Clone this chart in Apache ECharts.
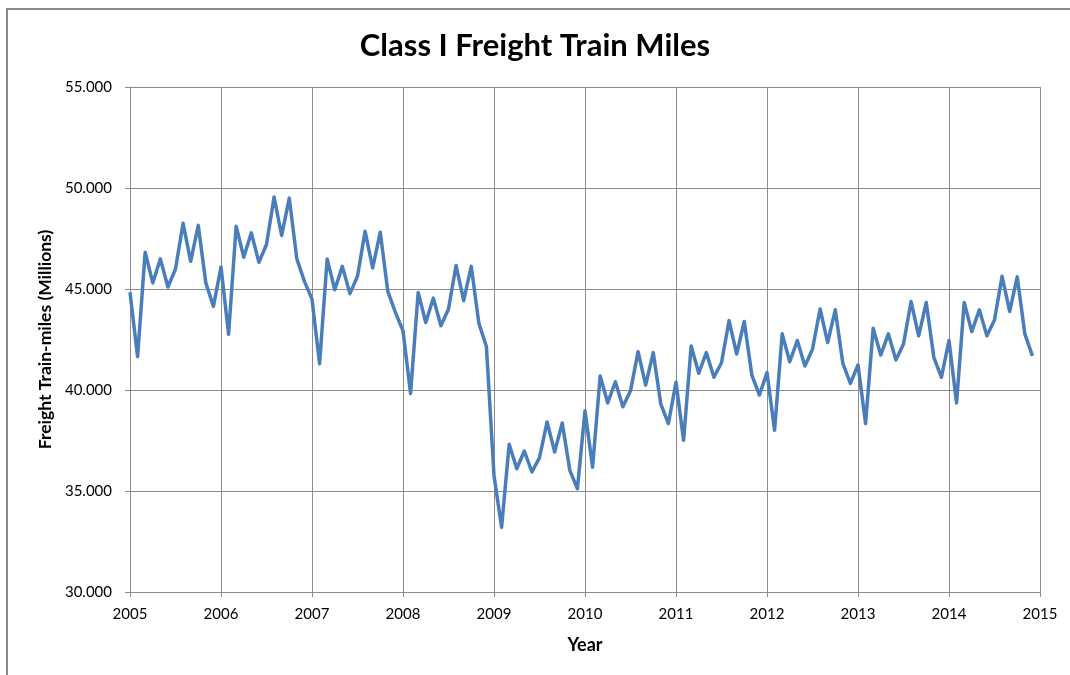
<!DOCTYPE html>
<html>
<head>
<meta charset="utf-8">
<script src="https://cdn.jsdelivr.net/npm/echarts@6/dist/echarts.min.js"></script>
<style>
  html, body { margin: 0; padding: 0; background: #fff; }
  #main { width: 1070px; height: 675px; }
</style>
</head>
<body>
<div id="main"></div>
<script>
var dom = document.getElementById("main");
var myChart = echarts.init(dom);

// monthly freight train-miles, Jan 2005 .. Dec 2014 (thousands)
var startYear = 2005;
var yearTicks = [2005, 2006, 2007, 2008, 2009, 2010, 2011, 2012, 2013, 2014, 2015];
var trainMiles = [
    44840, 41650, 46820, 45300, 46490, 45100, 45990, 48250, 46370, 48150, 45300, 44140,
    46090, 42760, 48110, 46570, 47780, 46320, 47200, 49550, 47650, 49500, 46490, 45380,
    44500, 41300, 46490, 44960, 46120, 44770, 45630, 47860, 46040, 47810, 44880, 43840,
    42930, 39830, 44830, 43340, 44550, 43180, 44010, 46160, 44420, 46120, 43310, 42150,
    35770, 33200, 37310, 36100, 36980, 35940, 36650, 38420, 36930, 38370, 36020, 35110,
    38970, 36180, 40690, 39360, 40410, 39170, 39960, 41900, 40240, 41850, 39300, 38340,
    40380, 37510, 42180, 40830, 41850, 40630, 41350, 43440, 41780, 43390, 40740, 39750,
    40860, 38010, 42780, 41400, 42450, 41190, 42020, 44010, 42350, 43970, 41320, 40330,
    41240, 38340, 43060, 41730, 42780, 41490, 42280, 44380, 42680, 44330, 41620, 40630,
    42450, 39360, 44330, 42890, 43970, 42680, 43470, 45630, 43890, 45600, 42780, 41690
];

var seriesData = [];
for (var i = 0; i < trainMiles.length; i++) {
    seriesData.push([startYear + i / 12, trainMiles[i]]);
}

var gridColor = '#8c8c8c';
var fontFamily = 'Lato';

option = {
    backgroundColor: '#fff',
    animation: false,
    textStyle: { fontFamily: fontFamily },
    title: {
        text: 'Class I Freight Train Miles',
        left: 'center',
        top: 25,
        textStyle: {
            fontFamily: fontFamily,
            fontSize: 31,
            fontWeight: 'bold',
            color: '#000'
        }
    },
    graphic: [
        {
            type: 'rect',
            shape: { x: 7, y: 9, width: 1100, height: 700 },
            style: { fill: 'none', stroke: '#8a8a8a', lineWidth: 2 },
            silent: true
        }
    ],
    grid: {
        left: 130,
        right: 30,
        top: 87,
        bottom: 83
    },
    xAxis: {
        type: 'value',
        min: yearTicks[0],
        max: yearTicks[yearTicks.length - 1],
        interval: 1,
        name: 'Year',
        nameLocation: 'middle',
        nameGap: 44,
        nameTextStyle: {
            fontFamily: fontFamily,
            fontSize: 18,
            fontWeight: 'bold',
            color: '#000'
        },
        axisLine: { show: true, lineStyle: { color: gridColor, width: 1 } },
        axisTick: { show: true, inside: false, length: 5, lineStyle: { color: gridColor } },
        axisLabel: {
            margin: 15,
            fontSize: 15,
            color: '#000',
            formatter: function (v) { return String(v); }
        },
        splitLine: { show: true, lineStyle: { color: gridColor, width: 1 } }
    },
    yAxis: {
        type: 'value',
        min: 30000,
        max: 55000,
        interval: 5000,
        name: 'Freight Train-miles (Millions)',
        nameLocation: 'middle',
        nameGap: 76,
        nameTextStyle: {
            fontFamily: fontFamily,
            fontSize: 17.5,
            fontWeight: 'bold',
            color: '#000'
        },
        axisLine: { show: true, lineStyle: { color: gridColor, width: 1 } },
        axisTick: { show: true, inside: false, length: 5, lineStyle: { color: gridColor } },
        axisLabel: {
            margin: 18,
            fontSize: 15,
            color: '#000',
            formatter: function (v) { return (v / 1000).toFixed(3); }
        },
        splitLine: { show: true, lineStyle: { color: gridColor, width: 1 } }
    },
    series: [
        {
            name: 'Freight Train-miles',
            type: 'line',
            data: seriesData,
            showSymbol: false,
            symbol: 'none',
            lineStyle: { color: '#4a7ebb', width: 3.5, join: 'round' },
            itemStyle: { color: '#4a7ebb' }
        }
    ]
};

if (option && typeof option === "object") {
    myChart.setOption(option, true);
}
</script>
</body>
</html>
